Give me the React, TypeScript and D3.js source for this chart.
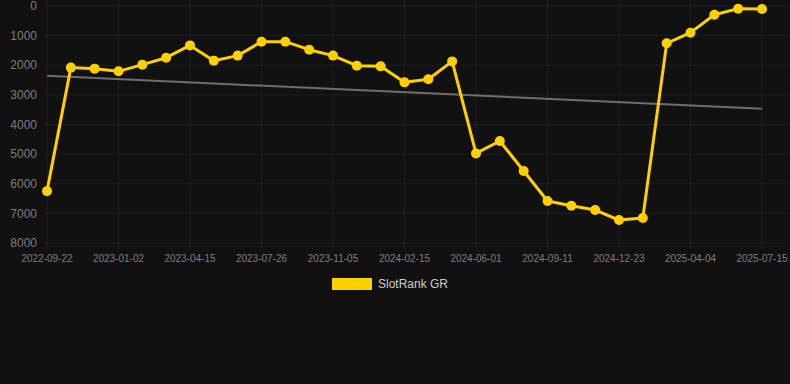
import React from "react";
import * as d3 from "d3";

const tickLabels = [
  "2022-09-22", "2023-01-02", "2023-04-15", "2023-07-26", "2023-11-05", "2024-02-15",
  "2024-06-01", "2024-09-11", "2024-12-23", "2025-04-04", "2025-07-15",
];
const rankValues = [
  6250, 2080, 2115, 2205, 1980, 1745, 1330, 1845, 1675, 1205, 1205,
  1475, 1675, 2015, 2037, 2577, 2475, 1870, 4975, 4557, 5570, 6582,
  6740, 6886, 7224, 7156, 1260, 900, 293, 90, 100,
];
const trendValues = [2355, 3465];
const yTicks = [0, 1000, 2000, 3000, 4000, 5000, 6000, 7000, 8000];
const seriesName = "SlotRank GR";

const W = 790, H = 384;
const left = 47, right = 762, top = 6, bottom = 243;
const FONT = "'Liberation Sans', Arial, Helvetica, sans-serif";

export default function App() {
  const x = d3.scaleLinear().domain([0, rankValues.length - 1]).range([left, right]);
  const y = d3.scaleLinear().domain([0, 8000]).range([top, bottom]);
  const line = d3.line<number>().x((_, i) => x(i)).y((d) => y(d));
  const tickIdx = tickLabels.map((_, i) => i * 3);
  const gridColor = "rgba(255,255,255,0.055)";
  return (
    <svg width={W} height={H} style={{ position: "fixed", left: 0, top: 0, background: "#111111" }}>
      <rect x={0} y={0} width={W} height={H} fill="#111111" />
      {yTicks.map((t) => (
        <g key={"y" + t}>
          <line x1={left - 2} x2={W} y1={y(t)} y2={y(t)} stroke={gridColor} strokeWidth={1} />
          <text x={37} y={y(t)} dy="0.35em" textAnchor="end" fill="#7d7d7d" fontSize={12} fontFamily={FONT}>
            {t}
          </text>
        </g>
      ))}
      {tickIdx.map((idx, i) => (
        <g key={"x" + i}>
          <line x1={x(idx)} x2={x(idx)} y1={0} y2={bottom + 6} stroke={gridColor} strokeWidth={1} />
          <text x={x(idx)} y={262} textAnchor="middle" fill="#7d7d7d" fontSize={10} fontFamily={FONT}>
            {tickLabels[i]}
          </text>
        </g>
      ))}
      <line
        x1={x(0)} y1={y(trendValues[0])}
        x2={x(rankValues.length - 1)} y2={y(trendValues[1])}
        stroke="#6e6e6e" strokeWidth={2}
      />
      <path d={line(rankValues) || ""} fill="none" stroke="#FFD000" strokeWidth={3} strokeLinejoin="round" />
      {rankValues.map((v, i) => (
        <circle key={"p" + i} cx={x(i)} cy={y(v)} r={5} fill="#FFD000" />
      ))}
      <rect x={332} y={278} width={40} height={12} fill="#FFD000" />
      <text x={378} y={284} dy="0.35em" fill="#cccccc" fontSize={12} fontFamily={FONT}>
        {seriesName}
      </text>
    </svg>
  );
}
